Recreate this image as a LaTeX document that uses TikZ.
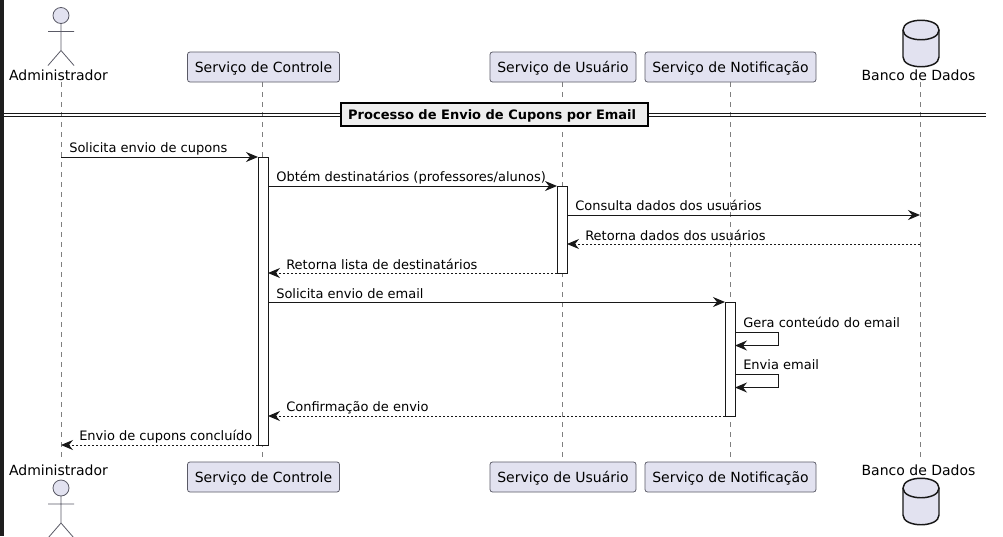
\documentclass[tikz,border=0pt]{standalone}
\usepackage{fontspec}
\setmainfont{DejaVu Sans}
\usetikzlibrary{arrows.meta}
\definecolor{partfill}{HTML}{E2E2F0}
\definecolor{partline}{HTML}{181818}
\definecolor{softline}{HTML}{5A5A66}
\definecolor{lifegray}{HTML}{7F7F7F}
\definecolor{divfill}{HTML}{EEEEEE}
\definecolor{sidebar}{HTML}{1E1E1E}
\tikzset{
	msgtip/.tip={Stealth[length=9pt,width=7.5pt,inset=3pt]},
	part/.style={draw=softline,fill=partfill,rounded corners=1.9pt,line width=0.55pt,minimum height=22.5pt,inner xsep=0pt,text=black,text height=8pt,text depth=0.5pt,font=\fontsize{10.5}{12}\selectfont},
	actorname/.style={font=\fontsize{10.5}{12}\selectfont,text=black,inner sep=0pt},
	lifeline/.style={lifegray,line width=0.75pt,dash pattern=on 3.75pt off 3.75pt},
	activ/.style={draw=partline,fill=white,line width=0.75pt,minimum width=7.5pt,inner sep=0pt,outer sep=0pt},
	msg/.style={partline,line width=0.75pt,-{msgtip}},
	ret/.style={msg,dash pattern=on 1.5pt off 1.5pt},
	msgtext/.style={font=\fontsize{9.75}{12}\selectfont,text=black,inner sep=0pt,anchor=base west},
	stick/.style={draw=softline,line width=0.6pt},
	dbshape/.style={draw=partline,fill=partfill,line width=1.1pt},
}
\newcommand{\actorfig}[2]{% x, y of the head
	\fill[partfill,stick] (#1,#2) circle (8);
	\draw[stick] (#1,#2+8) -- (#1,#2+35) -- (#1-13,#2+50) (#1,#2+35) -- (#1+13,#2+50) (#1-13,#2+16) -- (#1+13,#2+16);
}
\newcommand{\dbfig}[2]{% x, y of the top
	\draw[dbshape] (#1-18,#2+10) .. controls (#1-18,#2-3) and (#1+18,#2-3) .. (#1+18,#2+10) -- (#1+18,#2+37) .. controls (#1+18,#2+50) and (#1-18,#2+50) .. (#1-18,#2+37) -- cycle;
	\draw[dbshape] (#1-18,#2+10) .. controls (#1-18,#2+23) and (#1+18,#2+23) .. (#1+18,#2+10);
}
\begin{document}
\begin{tikzpicture}[x=0.75pt,y=-0.75pt]
	\useasboundingbox (0,0) rectangle (1003,536);
	\fill[white] (0,0) rectangle (1003,536);
	\fill[sidebar] (0,0) rectangle (4,536);

	%lifelines
	\coordinate (admT) at (61,82); \coordinate (admB) at (61,461);
	\coordinate (ctlT) at (262,82); \coordinate (ctlB) at (262,461);
	\coordinate (usrT) at (562,82); \coordinate (usrB) at (562,461);
	\coordinate (notT) at (730,82); \coordinate (notB) at (730,461);
	\coordinate (dbT) at (920,82); \coordinate (dbB) at (920,461);
	\draw[lifeline] (admT) -- (admB);
	\draw[lifeline] (ctlT) -- (ctlB);
	\draw[lifeline] (usrT) -- (usrB);
	\draw[lifeline] (notT) -- (notB);
	\draw[lifeline] (dbT) -- (dbB);

	%top heads
	\actorfig{61}{15.5}
	\node[actorname] (admTop) at (58.5,75) {Administrador};
	\node[part,minimum width=114pt] (ctlTop) at (263.5,67) {Serviço de Controle};
	\node[part,minimum width=109.5pt] (usrTop) at (563,67) {Serviço de Usuário};
	\node[part,minimum width=128.25pt] (notTop) at (730.5,67) {Serviço de Notificação};
	\dbfig{921}{20}
	\node[actorname] (dbTop) at (918.5,75) {Banco de Dados};

	%bottom heads
	\node[actorname] (admBot) at (58.5,470) {Administrador};
	\actorfig{61}{488}
	\node[part,minimum width=114pt] (ctlBot) at (263.5,477) {Serviço de Controle};
	\node[part,minimum width=109.5pt] (usrBot) at (563,477) {Serviço de Usuário};
	\node[part,minimum width=128.25pt] (notBot) at (730.5,477) {Serviço de Notificação};
	\node[actorname] (dbBot) at (918.5,470) {Banco de Dados};
	\dbfig{921}{478}

	%divider
	\draw[partline,line width=0.75pt] (4,113) -- (986,113) (4,116) -- (986,116);
	\node[draw=black,fill=divfill,line width=1.5pt,minimum width=230pt,minimum height=17pt,inner sep=0pt,text height=7.5pt,text depth=0pt,outer sep=0pt,font=\bfseries\fontsize{9.75}{12}\selectfont] (sep) at (494.5,114.5) {Processo de Envio de Cupons por Email\kern3.5pt\relax};

	%activations
	\node[activ,minimum height=216pt] (ctlBar) at (263,301) {};
	\node[activ,minimum height=65.25pt] (usrBar) at (562,229.5) {};
	\node[activ,minimum height=85.5pt] (notBar) at (730,359) {};

	%messages
	\coordinate (m1) at (61,157);
	\draw[msg] (m1) -- (ctlBar.north west);
	\node[msgtext] (t1) at (69,152) {Solicita envio de cupons};
	\coordinate (m2a) at (268,186); \coordinate (m2b) at (557,186);
	\draw[msg] (m2a) -- (m2b);
	\node[msgtext] (t2) at (276,181) {Obtém destinatários (professores/alunos)};
	\coordinate (m3a) at (567,215); \coordinate (m3b) at (920,215);
	\draw[msg] (m3a) -- (m3b);
	\node[msgtext] (t3) at (575,210) {Consulta dados dos usuários};
	\coordinate (m4a) at (920,244); \coordinate (m4b) at (567,244);
	\draw[ret] (m4a) -- (m4b);
	\node[msgtext] (t4) at (585,240) {Retorna dados dos usuários};
	\coordinate (m5a) at (557,273); \coordinate (m5b) at (268,273);
	\draw[ret] (m5a) -- (m5b);
	\node[msgtext] (t5) at (286,269) {Retorna lista de destinatários};
	\coordinate (m6a) at (268,302); \coordinate (m6b) at (725,302);
	\draw[msg] (m6a) -- (m6b);
	\node[msgtext] (t6) at (276,298) {Solicita envio de email};
	\coordinate (m7a) at (735,332.5); \coordinate (m7b) at (778,345.5); \coordinate (m7c) at (735,345.5);
	\draw[msg] (m7a) -| (m7b) -- (m7c);
	\node[msgtext] (t7) at (743,327) {Gera conteúdo do email};
	\coordinate (m8a) at (735,374.5); \coordinate (m8b) at (778,387.5); \coordinate (m8c) at (735,387.5);
	\draw[msg] (m8a) -| (m8b) -- (m8c);
	\node[msgtext] (t8) at (743,369) {Envia email};
	\coordinate (m9a) at (725,416); \coordinate (m9b) at (268,416);
	\draw[ret] (m9a) -- (m9b);
	\node[msgtext] (t9) at (286,411) {Confirmação de envio};
	\coordinate (m10a) at (258,445); \coordinate (m10b) at (61,445);
	\draw[ret] (m10a) -- (m10b);
	\node[msgtext] (t10) at (79,440) {Envio de cupons concluído};
\end{tikzpicture}
\end{document}
